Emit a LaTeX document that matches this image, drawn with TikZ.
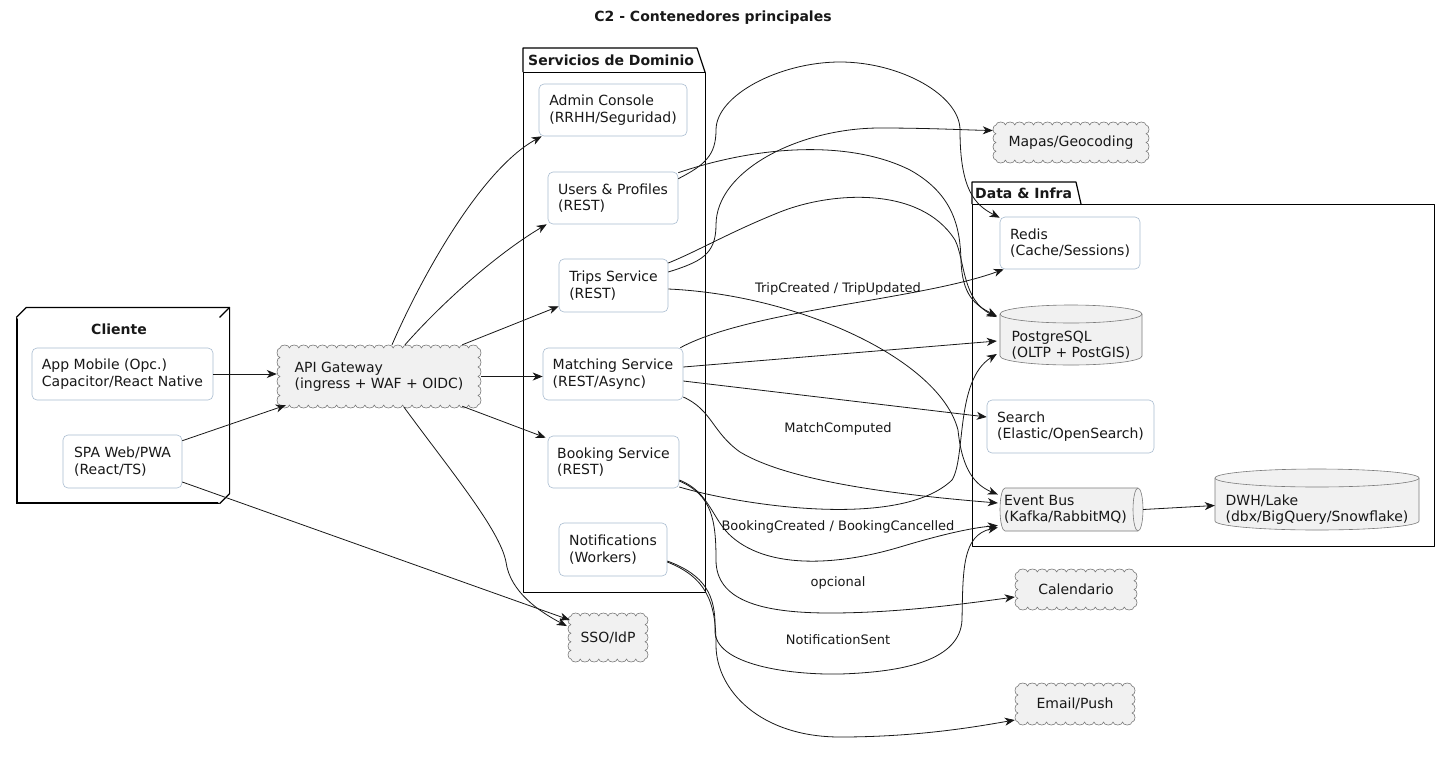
\documentclass[tikz,border=0pt]{standalone}
\usepackage{fontspec}
\setmainfont{DejaVu Sans}
\usetikzlibrary{arrows.meta,calc}
\definecolor{compb}{HTML}{A9BCD0}
\definecolor{cfill}{HTML}{F1F1F1}
\definecolor{cbord}{HTML}{7A7A7A}
\definecolor{ink}{HTML}{181818}
\newcommand\fsN{\fontsize{14}{16.4}\selectfont}
\newcommand\fsL{\fontsize{13}{15}\selectfont}
\newcommand\fsB{\fontsize{14}{16.4}\selectfont\bfseries}
% vertical cylinder: left, top, right, bottom, ry
\newcommand\dbvert[5]{%
  \pgfmathsetmacro\dbrx{(#3-#1)/2}%
  \filldraw[dbshape] (#1,{#2+#5}) -- (#1,{#4-#5}) arc[start angle=180,end angle=0,x radius=\dbrx,y radius=#5]
     -- (#3,{#2+#5}) arc[start angle=0,end angle=-180,x radius=\dbrx,y radius=#5] -- cycle;
  \draw[dbshape] (#1,{#2+#5}) arc[start angle=180,end angle=0,x radius=\dbrx,y radius=#5];
}
% horizontal cylinder (queue): left, top, right, bottom, rx
\newcommand\dbhorz[5]{%
  \pgfmathsetmacro\dbry{(#4-#2)/2}%
  \filldraw[dbshape] ({#1+#5},#2) -- ({#3-#5},#2) arc[start angle=-90,end angle=90,x radius=#5,y radius=\dbry]
     -- ({#1+#5},#4) arc[start angle=90,end angle=270,x radius=#5,y radius=\dbry] -- cycle;
  \draw[dbshape] ({#3-#5},#2) arc[start angle=-90,end angle=-270,x radius=#5,y radius=\dbry];
}
% scalloped cloud: center x, center y, inner width, inner height
\newcommand\cloudbox[4]{%
  \pgfmathsetmacro\cL{#1-#3/2}%
  \pgfmathsetmacro\cT{#2-#4/2}%
  \pgfmathtruncatemacro\nh{max(1,round(#3/9.5))}%
  \pgfmathtruncatemacro\nv{max(1,round(#4/9.5))}%
  \pgfmathsetmacro\wh{#3/\nh/2}%
  \pgfmathsetmacro\wv{#4/\nv/2}%
  \filldraw[cloudshape] (\cL,\cT)
    \foreach \i in {1,...,\nh}{ arc[start angle=180,end angle=360,x radius=\wh,y radius=3] }
    \foreach \i in {1,...,\nv}{ arc[start angle=-90,end angle=90,x radius=3,y radius=\wv] }
    \foreach \i in {1,...,\nh}{ arc[start angle=0,end angle=180,x radius=\wh,y radius=3] }
    \foreach \i in {1,...,\nv}{ arc[start angle=90,end angle=270,x radius=3,y radius=\wv] } -- cycle;
}
\begin{document}
\begin{tikzpicture}[x=1pt,y=-1pt,
  comp/.style={draw=compb, line width=0.6pt, rounded corners=5pt, fill=white, align=left, inner sep=0pt, font=\fsN, text=ink},
  cloudy/.style={draw=none, align=left, inner sep=0pt, font=\fsN, text=ink},
  cloudshape/.style={fill=cfill, draw=cbord, line width=0.6pt, line join=round},
  dbshape/.style={fill=cfill, draw=cbord, line width=0.6pt},
  dbbox/.style={inner sep=0pt, draw=none},
  dbtxt/.style={font=\fsN, align=left, text=ink, inner sep=0pt},
  pkg/.style={draw=black, line width=1.2pt, fill=white, line join=round},
  pkgtitle/.style={font=\fsB, text=ink, inner sep=0pt},
  conn/.style={draw=ink, line width=0.8pt, -{Stealth[length=10pt,width=8pt,inset=3pt]}},
  lbl/.style={font=\fsL, text=ink, inner sep=0pt}
]
\useasboundingbox (0,0) rectangle (1440,764);

% title
\node[pkgtitle] (title) at (713,18) {C2 - Contenedores principales};

% ---------- packages ----------
% Cliente (3D node)
\node[draw=black, line width=1.2pt, fill=white, minimum width=202pt, minimum height=185pt, inner sep=0pt] (cli) at (118,410.5) {};
\draw[pkg, fill=white] (cli.north west) -- ++(10,-10) -- ($(cli.north east)+(10,-10)$) -- ($(cli.south east)+(10,-10)$) -- (cli.south east);
\draw[pkg] (cli.north east) -- ++(10,-10);
\node[pkgtitle] (cliT) at (119,329) {Cliente};

% Servicios de Dominio
\draw[pkg] (523,72) -- (523,48) -- (697,48) -- (705,72);
\node[pkg, minimum width=182pt, minimum height=520pt, inner sep=0pt, anchor=north west] (svc) at (523,72) {};
\node[pkgtitle, anchor=west] (svcT) at (528,60) {Servicios de Dominio};

% Data & Infra
\draw[pkg] (972,204) -- (972,182) -- (1076,182) -- (1081,204);
\node[pkg, minimum width=462pt, minimum height=342pt, inner sep=0pt, anchor=north west] (dat) at (972,204) {};
\node[pkgtitle, anchor=west] (datT) at (975,193) {Data \& Infra};

% ---------- components ----------
\node[comp, minimum width=181pt, minimum height=52pt] (app) at (122.5,374) {App Mobile (Opc.)\\Capacitor/React Native};
\node[comp, minimum width=119pt, minimum height=53pt] (spa) at (122.5,461.5) {SPA Web/PWA\\(React/TS)};

\node[comp, minimum width=148pt, minimum height=52pt] (admin) at (613,110) {Admin Console\\(RRHH/Seguridad)};
\node[comp, minimum width=130pt, minimum height=52pt] (users) at (613,198) {Users \& Profiles\\(REST)};
\node[comp, minimum width=109pt, minimum height=53pt] (trips) at (613.5,285.5) {Trips Service\\(REST)};
\node[comp, minimum width=140pt, minimum height=52pt] (matching) at (613,374) {Matching Service\\(REST/Async)};
\node[comp, minimum width=131pt, minimum height=52pt] (booking) at (613.5,462) {Booking Service\\(REST)};
\node[comp, minimum width=108pt, minimum height=53pt] (notif) at (613,549.5) {Notifications\\(Workers)};

\node[comp, minimum width=140pt, minimum height=52pt] (redis) at (1070,243) {Redis\\(Cache/Sessions)};
\node[comp, minimum width=167pt, minimum height=53pt] (search) at (1070.5,426.5) {Search\\(Elastic/OpenSearch)};

% databases
\dbvert{1000}{305}{1142}{365}{9}
\node[dbbox, minimum width=142pt, minimum height=60pt, label={[dbtxt, yshift=-10pt]center:{PostgreSQL\\(OLTP + PostGIS)}}] (pg) at (1071,335) {};
\dbvert{1215}{469}{1419}{530}{9}
\node[dbbox, minimum width=204pt, minimum height=61pt, label={[dbtxt, yshift=-10pt]center:{DWH/Lake\\(dbx/BigQuery/Snowflake)}}] (dwh) at (1317,499.5) {};
\dbhorz{1000}{488}{1143}{531}{5}
\node[dbbox, minimum width=143pt, minimum height=43pt, label={[dbtxt, xshift=-6pt]center:{Event Bus\\(Kafka/RabbitMQ)}}] (bus) at (1071.5,509.5) {};

% clouds
\cloudbox{379}{376.5}{198}{57}
\node[cloudy, minimum width=204pt, minimum height=63pt] (gw) at (379,376.5) {API Gateway\\(ingress + WAF + OIDC)};
\cloudbox{1071}{142.5}{150}{35}
\node[cloudy, minimum width=156pt, minimum height=41pt] (mapas) at (1071,142.5) {Mapas/Geocoding};
\cloudbox{1076}{589.5}{116}{35}
\node[cloudy, minimum width=122pt, minimum height=41pt] (cal) at (1076,589.5) {Calendario};
\cloudbox{1075}{704}{114}{36}
\node[cloudy, minimum width=120pt, minimum height=42pt] (email) at (1075,704) {Email/Push};
\cloudbox{608}{637.5}{74}{43}
\node[cloudy, minimum width=80pt, minimum height=49pt] (sso) at (608,637.5) {SSO/IdP};

% ---------- connectors ----------
\draw[conn] (app.east) -- (app.east -| gw.west);
\draw[conn] ($(spa.north east)+(0,6)$) -- ($(gw.south west)+(9,-3)$);
\draw[conn] ($(spa.east)+(0,20.5)$) -- ($(sso.west)+(2,-17.5)$);
\draw[conn] ($(gw.north)+(13,0)$) .. controls (420,280) and (480,170) .. ($(admin.south west)+(3,0)$);
\draw[conn] ($(gw.north)+(26,0)$) .. controls (440,305) and (495,255) .. ($(users.south west)+(-1,0)$);
\draw[conn] ($(gw.north east)+(-19,0)$) -- ($(trips.south west)+(0,-6)$);
\draw[conn] (gw.east) -- (gw.east -| matching.west);
\draw[conn] ($(gw.south east)+(-19,-2)$) -- ($(booking.north west)+(-2,2)$);
\draw[conn] ($(gw.south)+(25,-1)$) .. controls (450,470) and (500,530) .. (506,562) .. controls (510,592) and (540,612) .. ($(sso.west)+(-1,-11.5)$);

% Users
\draw[conn] ($(users.north east)+(0,7)$) .. controls (705,165) and (716,155) .. (716,130) .. controls (716,95) and (780,62) .. (840,62) .. controls (900,62) and (960,95) .. (960,130) .. controls (960,190) and (975,205) .. ($(redis.north west)+(0,1)$);
\draw[conn] ($(users.north east)+(0,1)$) .. controls (760,145) and (850,140) .. (910,170) .. controls (955,195) and (960,230) .. (961,260) .. controls (962,295) and (975,305) .. ($(pg.west)+(-3,-19)$);

% Trips
\draw[conn] ($(trips.east)+(0,-13.5)$) .. controls (700,262) and (716,255) .. (716,225) .. controls (716,170) and (800,128) .. (880,128) .. controls (930,128) and (965,130) .. ($(mapas.west)+(0,-12)$);
\draw[conn] ($(trips.east)+(0,-22.5)$) .. controls (700,250) and (730,232) .. (780,212) .. controls (830,192) and (920,185) .. (955,240) .. controls (965,260) and (962,300) .. ($(pg.west)+(-3,-18)$);
\draw[conn] ($(trips.east)+(0,3.5)$) .. controls (800,295) and (940,360) .. (958,430) .. controls (962,470) and (975,485) .. ($(bus.west)+(-2,-15)$);
\node[lbl] (l1) at (838,289) {TripCreated / TripUpdated};

% Matching
\draw[conn] ($(matching.north east)+(-3,0)$) .. controls (750,310) and (920,300) .. ($(redis.south west)+(4,0)$);
\draw[conn] ($(matching.east)+(0,-7)$) -- ($(pg.west)+(-3,6)$);
\draw[conn] ($(matching.east)+(0,7)$) -- ($(search.west)+(0,-9.5)$);
\draw[conn] ($(matching.east)+(0,23)$) .. controls (712,410) and (712,432) .. (740,452) .. controls (790,482) and (900,495) .. ($(bus.west)+(-2,-6.5)$);
\node[lbl] (l2) at (838,429) {MatchComputed};

% Booking
\draw[conn] ($(booking.east)+(0,25)$) .. controls (740,505) and (900,530) .. (952,480) .. controls (966,458) and (955,380) .. ($(pg.west)+(-3,19)$);
\draw[conn] ($(booking.east)+(0,18)$) .. controls (710,492) and (712,520) .. (732,537) .. controls (770,570) and (840,565) .. (900,547) .. controls (940,535) and (970,528) .. ($(bus.west)+(-2,16)$);
\node[lbl] (l3) at (838,527) {BookingCreated / BookingCancelled};
\draw[conn] ($(booking.east)+(0,19)$) .. controls (712,495) and (716,520) .. (716,560) .. controls (716,600) and (760,613) .. (830,613) .. controls (900,613) and (970,603) .. ($(cal.west)+(0,7.5)$);
\node[lbl] (l4) at (838,583) {opcional};

% Notifications
\draw[conn] ($(notif.east)+(0,11.5)$) .. controls (705,575) and (716,595) .. (715,630) .. controls (714,665) and (790,675) .. (840,674) .. controls (905,672) and (960,660) .. (962,620) .. controls (963,570) and (962,535) .. ($(bus.west)+(-2,18)$);
\node[lbl] (l5) at (838,640) {NotificationSent};
\draw[conn] ($(notif.east)+(0,12.5)$) .. controls (705,577) and (716,600) .. (716,645) .. controls (716,690) and (760,737) .. (840,737) .. controls (920,737) and (980,726) .. ($(email.west)+(0,16)$);

% Event bus to lake
\draw[conn] (bus.east) -- ($(dwh.west)+(0,6)$);
\end{tikzpicture}
\end{document}
